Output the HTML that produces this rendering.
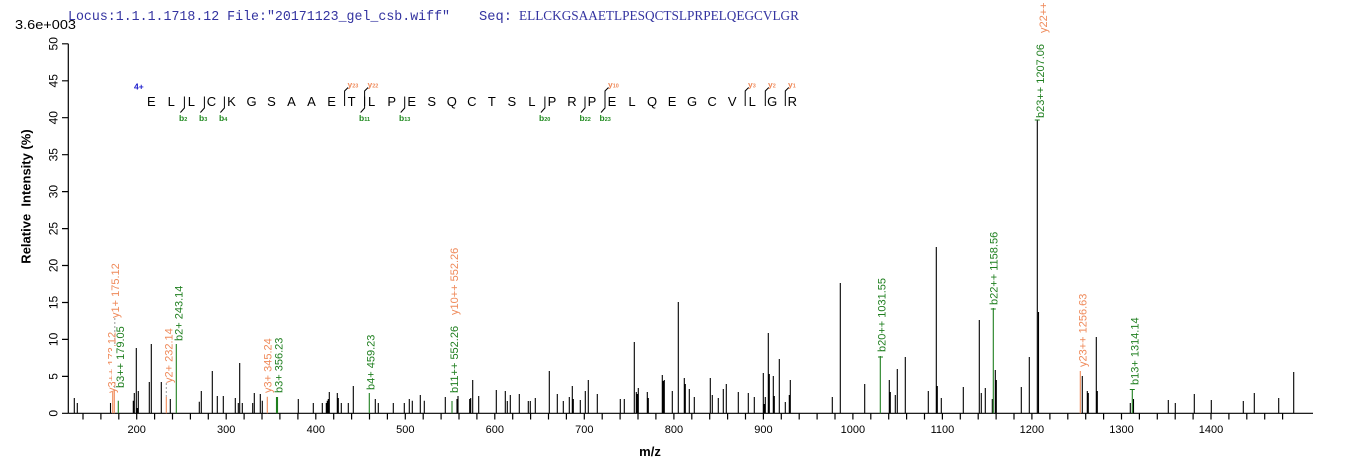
<!DOCTYPE html>
<html>
<head>
<meta charset="utf-8">
<style>
  html,body{margin:0;padding:0;background:#fff;}
  svg{display:block;}
  text{font-family:"Liberation Sans", Arial, sans-serif;}
</style>
</head>
<body>
<svg width="1362" height="473" viewBox="0 0 1362 473" xmlns="http://www.w3.org/2000/svg">
  <rect width="1362" height="473" fill="#fff"/>

  <!-- Header -->
  <text x="68" y="20" style="font-family:'Liberation Mono', monospace;font-size:13.5px" fill="#3333a0" textLength="382" lengthAdjust="spacingAndGlyphs">Locus:1.1.1.1718.12 File:"20171123_gel_csb.wiff"</text>
  <text x="479" y="20" style="font-family:'Liberation Mono', monospace;font-size:13.5px" fill="#3333a0" textLength="33" lengthAdjust="spacingAndGlyphs">Seq:</text>
  <text x="519" y="20" style="font-family:'Liberation Serif', serif;font-size:13.5px" fill="#3333a0" textLength="280" lengthAdjust="spacingAndGlyphs">ELLCKGSAAETLPESQCTSLPRPELQEGCVLGR</text>
  <text x="15" y="29" font-size="13" fill="#000" textLength="61" lengthAdjust="spacingAndGlyphs">3.6e+003</text>

  <!-- Axes -->
  <g stroke="#000" stroke-width="1.2" fill="none">
    <line x1="68.3" y1="43.8" x2="68.3" y2="413.3"/>
    <line x1="68.3" y1="413.3" x2="1313" y2="413.3"/>
    <path d="M62 413.3H68.3M62 376.4H68.3M62 339.4H68.3M62 302.5H68.3M62 265.5H68.3M62 228.6H68.3M62 191.6H68.3M62 154.7H68.3M62 117.7H68.3M62 80.8H68.3M62 43.8H68.3"/>
    <path d="M83.0 413.3V419.5M100.9 413.3V419.5M118.8 413.3V419.5M136.7 413.3V419.5M154.6 413.3V419.5M172.5 413.3V419.5M190.4 413.3V419.5M208.3 413.3V419.5M226.2 413.3V419.5M244.1 413.3V419.5M262.0 413.3V419.5M279.9 413.3V419.5M297.9 413.3V419.5M315.8 413.3V419.5M333.7 413.3V419.5M351.6 413.3V419.5M369.5 413.3V419.5M387.4 413.3V419.5M405.3 413.3V419.5M423.2 413.3V419.5M441.1 413.3V419.5M459.0 413.3V419.5M476.9 413.3V419.5M494.8 413.3V419.5M512.7 413.3V419.5M530.6 413.3V419.5M548.5 413.3V419.5M566.4 413.3V419.5M584.3 413.3V419.5M602.2 413.3V419.5M620.1 413.3V419.5M638.0 413.3V419.5M655.9 413.3V419.5M673.9 413.3V419.5M691.8 413.3V419.5M709.7 413.3V419.5M727.6 413.3V419.5M745.5 413.3V419.5M763.4 413.3V419.5M781.3 413.3V419.5M799.2 413.3V419.5M817.1 413.3V419.5M835.0 413.3V419.5M852.9 413.3V419.5M870.8 413.3V419.5M888.7 413.3V419.5M906.6 413.3V419.5M924.5 413.3V419.5M942.4 413.3V419.5M960.3 413.3V419.5M978.2 413.3V419.5M996.1 413.3V419.5M1014.0 413.3V419.5M1031.9 413.3V419.5M1049.9 413.3V419.5M1067.8 413.3V419.5M1085.7 413.3V419.5M1103.6 413.3V419.5M1121.5 413.3V419.5M1139.4 413.3V419.5M1157.3 413.3V419.5M1175.2 413.3V419.5M1193.1 413.3V419.5M1211.0 413.3V419.5M1228.9 413.3V419.5M1246.8 413.3V419.5M1264.7 413.3V419.5M1282.6 413.3V419.5"/>
  </g>

  <!-- y tick labels -->
  <g font-size="12" fill="#000" text-anchor="middle">
    <text transform="translate(57.5,413.3) rotate(-90)">0</text>
    <text transform="translate(57.5,376.4) rotate(-90)">5</text>
    <text transform="translate(57.5,339.4) rotate(-90)">10</text>
    <text transform="translate(57.5,302.5) rotate(-90)">15</text>
    <text transform="translate(57.5,265.5) rotate(-90)">20</text>
    <text transform="translate(57.5,228.6) rotate(-90)">25</text>
    <text transform="translate(57.5,191.6) rotate(-90)">30</text>
    <text transform="translate(57.5,154.7) rotate(-90)">35</text>
    <text transform="translate(57.5,117.7) rotate(-90)">40</text>
    <text transform="translate(57.5,80.8) rotate(-90)">45</text>
    <text transform="translate(57.5,43.8) rotate(-90)">50</text>
  </g>
  <!-- x tick labels -->
  <g font-size="11" fill="#000" text-anchor="middle">
    <text x="136.7" y="433">200</text>
    <text x="226.2" y="433">300</text>
    <text x="315.8" y="433">400</text>
    <text x="405.3" y="433">500</text>
    <text x="494.8" y="433">600</text>
    <text x="584.3" y="433">700</text>
    <text x="673.9" y="433">800</text>
    <text x="763.4" y="433">900</text>
    <text x="852.9" y="433">1000</text>
    <text x="942.4" y="433">1100</text>
    <text x="1031.9" y="433">1200</text>
    <text x="1121.5" y="433">1300</text>
    <text x="1211.0" y="433">1400</text>
  </g>

  <!-- axis titles -->
  <text transform="translate(30.5,196.5) rotate(-90)" font-size="13" font-weight="bold" text-anchor="middle" fill="#000" xml:space="preserve">Relative  Intensity (%)</text>
  <text x="650" y="456" font-size="13" font-weight="bold" text-anchor="middle" fill="#000">m/z</text>

  <!-- black peaks -->
  <path stroke="#000" stroke-width="1.1" fill="none" d="
M74.3 413.3V398M77.3 413.3V403M110.5 413.3V403M133.3 413.3V400.7M134.3 413.3V393M136.3 413.3V348M137.3 413.3V408M138.3 413.3V391
M149.3 413.3V382M151.3 413.3V344M161.3 413.3V382M170.3 413.3V399M199.3 413.3V401.7M201.3 413.3V391M212.3 413.3V371M217.3 413.3V396
M223.3 413.3V396M235.3 413.3V398M238.3 413.3V403M239.7 413.3V363M242.3 413.3V403M252.7 413.3V403M254.3 413.3V393M260.3 413.3V394
M262.3 413.3V400.7M298.3 413.3V399M313.3 413.3V403M322.3 413.3V403M326.3 413.3V403M327.3 413.3V400.7M328.3 413.3V399M329.3 413.3V392
M337.3 413.3V393M338.3 413.3V398M341.3 413.3V403M348.3 413.3V403M353.3 413.3V386M375.3 413.3V399M378.3 413.3V403M393.3 413.3V403
M404.3 413.3V403M409.3 413.3V399M412.3 413.3V400.7M420.3 413.3V395M424.3 413.3V400.7M445.3 413.3V397M457 413.3V399M458 413.3V396
M469.7 413.3V399M470.7 413.3V398M472.7 413.3V380M478.7 413.3V396M496.3 413.3V390M505.3 413.3V391M507.3 413.3V401M510.3 413.3V395
M519.3 413.3V394M528.3 413.3V401M530.3 413.3V401M535.3 413.3V398M549.3 413.3V371M557.3 413.3V394M563.3 413.3V401M569.3 413.3V397
M572.3 413.3V386M573.3 413.3V399M580.3 413.3V400M585.3 413.3V391M588.3 413.3V380M597.3 413.3V394M620.3 413.3V399M624.3 413.3V399
M634.3 413.3V342M636.3 413.3V392M637.3 413.3V394M638.3 413.3V388M647.3 413.3V392M648.3 413.3V398M662.3 413.3V375M663.3 413.3V381
M664.3 413.3V380M672.3 413.3V391M678.3 413.3V302M684.3 413.3V378M685.3 413.3V384M689.3 413.3V389M694.3 413.3V397M710.3 413.3V378
M712.3 413.3V395M718.3 413.3V398M723.3 413.3V389M726.3 413.3V384M738.3 413.3V392M748.3 413.3V393M754.3 413.3V397M763.3 413.3V373
M764.3 413.3V404M765.3 413.3V397M768.3 413.3V333M769.3 413.3V374M773.3 413.3V376M774.3 413.3V396M779.3 413.3V359M785.3 413.3V402
M789.3 413.3V395M790.3 413.3V380M832.3 413.3V397M840.3 413.3V283M864.7 413.3V384M889.3 413.3V380M890.3 413.3V392M895.3 413.3V395
M897.3 413.3V369M905.3 413.3V357M928.3 413.3V391M936.3 413.3V247M937.3 413.3V386M941.3 413.3V398M963.3 413.3V387M979.3 413.3V320
M981.3 413.3V393M985.3 413.3V388M992.3 413.3V399M995.3 413.3V370M996.3 413.3V380M1021.3 413.3V387M1029.3 413.3V357
M1037.3 413.3V120M1038.5 413.3V312M1082.3 413.3V376M1087.3 413.3V391M1088.3 413.3V393M1096.3 413.3V337M1097.3 413.3V391
M1130.3 413.3V403M1133.5 413.3V399M1168.3 413.3V400M1175.3 413.3V403M1194.3 413.3V394M1211.3 413.3V400M1243.3 413.3V401
M1254.3 413.3V393M1278.7 413.3V398M1293.7 413.3V372"/>

  <!-- orange peaks -->
  <path stroke="#ef8a5a" stroke-width="1.1" fill="none" d="M112.7 413.3V392M114.3 413.3V391M166.3 413.3V396.7M267.3 413.3V396.7M1080.3 413.3V371"/>
  <!-- green peaks -->
  <path stroke="#1f7f1f" stroke-width="1.1" fill="none" d="M118.3 413.3V400.7M176.3 413.3V344M276.5 413.3V397M277.5 413.3V397M369.3 413.3V393M452 413.3V401M880.3 413.3V356M993.3 413.3V308M1132.3 413.3V389
  M990.8 309H995.8M878 357H883M1034.8 120H1039.8M1129.8 389.5H1134.8"/>

  <!-- dashed leaders -->
  <path stroke="#999" stroke-width="1" stroke-dasharray="2,2" fill="none" d="M114.8 318V391M166.3 383V396.7"/>

  <!-- peak labels -->
  <g font-size="11">
    <text transform="translate(115.5,393) rotate(-90)" fill="#ef8a5a">y3++ 173.12</text>
    <rect x="112" y="346" width="13" height="36" fill="#fff"/>
    <text transform="translate(119,318) rotate(-90)" fill="#ef8a5a">y1+ 175.12</text>
    <text transform="translate(124,388) rotate(-90)" fill="#1f7f1f">b3++ 179.05</text>
    <text transform="translate(172.3,383) rotate(-90)" fill="#ef8a5a">y2+ 232.14</text>
    <text transform="translate(182.3,341) rotate(-90)" fill="#1f7f1f">b2+ 243.14</text>
    <text transform="translate(271.3,393) rotate(-90)" fill="#ef8a5a">y3+ 345.24</text>
    <text transform="translate(282.3,393) rotate(-90)" fill="#1f7f1f">b3+ 356.23</text>
    <text transform="translate(374.7,390) rotate(-90)" fill="#1f7f1f">b4+ 459.23</text>
    <text transform="translate(458,393) rotate(-90)" fill="#1f7f1f">b11++ 552.26</text>
    <text transform="translate(458,315) rotate(-90)" fill="#ef8a5a">y10++ 552.26</text>
    <text transform="translate(885.7,352) rotate(-90)" fill="#1f7f1f">b20++ 1031.55</text>
    <text transform="translate(997.5,305) rotate(-90)" fill="#1f7f1f">b22++ 1158.56</text>
    <text transform="translate(1044,118) rotate(-90)" fill="#1f7f1f">b23++ 1207.06</text>
    <text transform="translate(1047,33) rotate(-90)" fill="#ef8a5a">y22++ 1207.56</text>
    <text transform="translate(1086.7,367) rotate(-90)" fill="#ef8a5a">y23++ 1256.63</text>
    <text transform="translate(1138.3,385) rotate(-90)" fill="#1f7f1f">b13+ 1314.14</text>
  </g>

  <!-- sequence annotation -->
  <text x="134" y="89.5" font-size="8.5" font-weight="bold" fill="#1a1acc">4+</text>
  <g font-size="13" fill="#000" text-anchor="middle">
    <text x="151.3" y="106">E</text><text x="171.3" y="106">L</text><text x="191.4" y="106">L</text><text x="211.4" y="106">C</text>
    <text x="231.4" y="106">K</text><text x="251.5" y="106">G</text><text x="271.5" y="106">S</text><text x="291.5" y="106">A</text>
    <text x="311.5" y="106">A</text><text x="331.6" y="106">E</text><text x="351.6" y="106">T</text><text x="371.6" y="106">L</text>
    <text x="391.7" y="106">P</text><text x="411.7" y="106">E</text><text x="431.7" y="106">S</text><text x="451.8" y="106">Q</text>
    <text x="471.8" y="106">C</text><text x="491.8" y="106">T</text><text x="511.8" y="106">S</text><text x="531.9" y="106">L</text>
    <text x="551.9" y="106">P</text><text x="571.9" y="106">R</text><text x="592.0" y="106">P</text><text x="612.0" y="106">E</text>
    <text x="632.0" y="106">L</text><text x="652.1" y="106">Q</text><text x="672.1" y="106">E</text><text x="692.1" y="106">G</text>
    <text x="712.1" y="106">C</text><text x="732.2" y="106">V</text><text x="752.2" y="106">L</text><text x="772.2" y="106">G</text>
    <text x="792.3" y="106">R</text>
  </g>

  <!-- b-ion hooks -->
  <g stroke="#000" stroke-width="1" fill="none">
    <polyline points="184.4,96.5 184.4,108 180.4,112.5"/>
    <polyline points="204.4,96.5 204.4,108 200.4,112.5"/>
    <polyline points="224.4,96.5 224.4,108 220.4,112.5"/>
    <polyline points="364.6,96.5 364.6,108 360.6,112.5"/>
    <polyline points="404.7,96.5 404.7,108 400.7,112.5"/>
    <polyline points="544.9,96.5 544.9,108 540.9,112.5"/>
    <polyline points="585.0,96.5 585.0,108 581.0,112.5"/>
    <polyline points="605.0,96.5 605.0,108 601.0,112.5"/>
    <polyline points="344.6,106 344.6,91 348.1,87.5"/>
    <polyline points="364.6,106 364.6,91 368.1,87.5"/>
    <polyline points="605.0,106 605.0,91 608.5,87.5"/>
    <polyline points="745.2,106 745.2,91 748.7,87.5"/>
    <polyline points="765.3,106 765.3,91 768.8,87.5"/>
    <polyline points="785.3,106 785.3,91 788.8,87.5"/>
  </g>

  <!-- b labels -->
  <g fill="#1f8a1f" font-size="8.5" font-weight="bold">
    <text x="179" y="121">b<tspan font-size="5.5">2</tspan></text>
    <text x="199" y="121">b<tspan font-size="5.5">3</tspan></text>
    <text x="219" y="121">b<tspan font-size="5.5">4</tspan></text>
    <text x="359" y="121">b<tspan font-size="5.5">11</tspan></text>
    <text x="399" y="121">b<tspan font-size="5.5">13</tspan></text>
    <text x="539" y="121">b<tspan font-size="5.5">20</tspan></text>
    <text x="579.5" y="121">b<tspan font-size="5.5">22</tspan></text>
    <text x="599.5" y="121">b<tspan font-size="5.5">23</tspan></text>
  </g>
  <!-- y labels -->
  <g fill="#ef8a5a" font-size="8.5" font-weight="bold">
    <text x="347.5" y="87.5">y<tspan font-size="5.5">23</tspan></text>
    <text x="367.5" y="87.5">y<tspan font-size="5.5">22</tspan></text>
    <text x="608" y="87.5">y<tspan font-size="5.5">10</tspan></text>
    <text x="748" y="87.5">y<tspan font-size="5.5">3</tspan></text>
    <text x="768" y="87.5">y<tspan font-size="5.5">2</tspan></text>
    <text x="788" y="87.5">y<tspan font-size="5.5">1</tspan></text>
  </g>
</svg>
</body>
</html>
